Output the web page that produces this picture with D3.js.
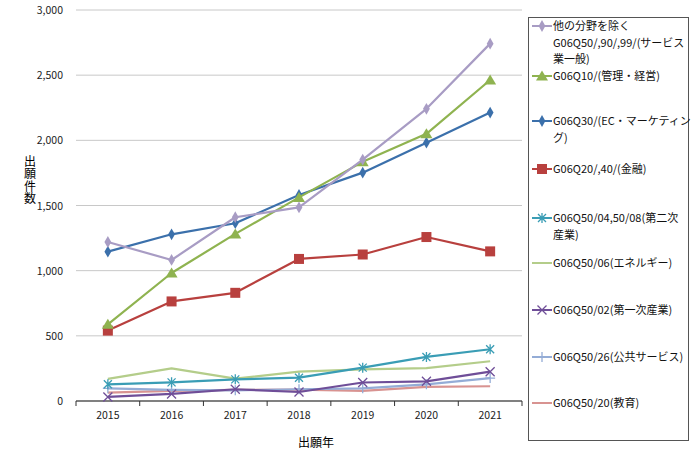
<!DOCTYPE html>
<html>
<head>
<meta charset="utf-8">
<script src="https://cdn.jsdelivr.net/npm/d3@7"></script>
<style>
  body { margin: 0; background: #fff; }
  svg { font-family: "Noto Sans CJK JP", "Noto Sans", sans-serif; }
</style>
</head>
<body>
<div id="chart"></div>
<script>
// Years on the x axis
const years = ['2015', '2016', '2017', '2018', '2019', '2020', '2021'];
const yTicks = [0, 500, 1000, 1500, 2000, 2500, 3000];

// Series values
const otherService = [1220, 1082, 1410, 1485, 1852, 2242, 2742];
const management = [588, 982, 1282, 1562, 1835, 2050, 2463];
const ecMarketing = [1146, 1279, 1364, 1581, 1752, 1982, 2213];
const finance = [540, 764, 830, 1090, 1124, 1258, 1148];
const secondary = [128, 143, 166, 179, 256, 338, 397];
const energy = [170, 250, 172, 225, 243, 252, 305];
const primary = [31, 54, 90, 69, 142, 151, 225];
const publicService = [97, 86, 82, 90, 97, 128, 176];
const education = [64, 77, 86, 87, 78, 108, 113];

const seriesNames = [
  ['他の分野を除く', 'G06Q50/,90/,99/(サービス', '業一般)'],
  ['G06Q10/(管理・経営)'],
  ['G06Q30/(EC・マーケティン', 'グ)'],
  ['G06Q20/,40/(金融)'],
  ['G06Q50/04,50/08(第二次', '産業)'],
  ['G06Q50/06(エネルギー)'],
  ['G06Q50/02(第一次産業)'],
  ['G06Q50/26(公共サービス)'],
  ['G06Q50/20(教育)']
];

const series = [
  { name: seriesNames[0], values: otherService, color: '#a89cc4', marker: 'diamond' },
  { name: seriesNames[1], values: management, color: '#8fb350', marker: 'triangle' },
  { name: seriesNames[2], values: ecMarketing, color: '#3b70ab', marker: 'diamond' },
  { name: seriesNames[3], values: finance, color: '#b8403e', marker: 'square' },
  { name: seriesNames[4], values: secondary, color: '#3a9db5', marker: 'star' },
  { name: seriesNames[5], values: energy, color: '#b4cd8a', marker: 'none' },
  { name: seriesNames[6], values: primary, color: '#6f4e98', marker: 'cross' },
  { name: seriesNames[7], values: publicService, color: '#94acd6', marker: 'plus' },
  { name: seriesNames[8], values: education, color: '#d89391', marker: 'none' }
];

const width = 698, height = 467;
const plot = { left: 76, right: 522, top: 10, bottom: 401 };

const svg = d3.select('#chart').append('svg')
  .attr('width', width)
  .attr('height', height);

const x = d3.scaleBand().domain(years).range([plot.left, plot.right]);
const y = d3.scaleLinear().domain([0, 3000]).range([plot.bottom, plot.top]);
const cx = d => x(d) + x.bandwidth() / 2;

// Gridlines
svg.append('g')
  .selectAll('line')
  .data(yTicks.filter(t => t > 0))
  .enter().append('line')
  .attr('x1', plot.left).attr('x2', plot.right)
  .attr('y1', d => y(d)).attr('y2', d => y(d))
  .attr('stroke', '#c8c8c8').attr('stroke-width', 1);

// Y axis labels
svg.append('g')
  .selectAll('text')
  .data(yTicks)
  .enter().append('text')
  .attr('x', 63)
  .attr('y', d => y(d) + 4)
  .attr('text-anchor', 'end')
  .attr('font-size', 10.5)
  .attr('fill', '#222')
  .text(d => d3.format(',')(d));

// X axis
const xAxis = svg.append('g').attr('transform', `translate(0,${plot.bottom})`)
  .call(d3.axisBottom(x).tickSize(0).tickPadding(11));
xAxis.select('.domain').remove();
xAxis.selectAll('text').attr('font-size', 10.5).attr('fill', '#222')
  .attr('font-family', '"Noto Sans CJK JP", sans-serif');

svg.append('line')
  .attr('x1', plot.left).attr('x2', plot.right)
  .attr('y1', plot.bottom).attr('y2', plot.bottom)
  .attr('stroke', '#808080').attr('stroke-width', 2);

const boundaries = years.map(d => x(d)).concat([plot.right]);
svg.append('g')
  .selectAll('line')
  .data(boundaries)
  .enter().append('line')
  .attr('x1', d => d).attr('x2', d => d)
  .attr('y1', plot.bottom).attr('y2', plot.bottom + 5)
  .attr('stroke', '#333').attr('stroke-width', 1);

// Axis titles
svg.append('text')
  .attr('x', 316).attr('y', 447)
  .attr('text-anchor', 'middle')
  .attr('font-size', 12)
  .text('出願年');

svg.append('text')
  .attr('x', 30).attr('y', 155)
  .attr('font-size', 12)
  .style('writing-mode', 'vertical-rl')
  .style('letter-spacing', '0.5px')
  .text('出願件数');

// Marker drawing
function drawMarker(g, type, color) {
  if (type === 'diamond') {
    g.append('path').attr('d', d3.symbol(d3.symbolDiamond, 40)()).attr('fill', color);
  } else if (type === 'triangle') {
    g.append('path').attr('d', 'M0,-5.5L6,4.5L-6,4.5Z').attr('fill', color);
  } else if (type === 'square') {
    g.append('rect').attr('x', -5).attr('y', -5).attr('width', 10).attr('height', 10).attr('fill', color);
  } else if (type === 'star') {
    g.append('path').attr('d', 'M-4,-4L4,4M-4,4L4,-4M0,-5L0,5')
      .attr('stroke', color).attr('stroke-width', 1.3).attr('fill', 'none');
  } else if (type === 'cross') {
    g.append('path').attr('d', 'M-4.5,-4.5L4.5,4.5M-4.5,4.5L4.5,-4.5')
      .attr('stroke', color).attr('stroke-width', 1.3).attr('fill', 'none');
  } else if (type === 'plus') {
    g.append('path').attr('d', 'M-5,0L5,0M0,-5L0,5')
      .attr('stroke', color).attr('stroke-width', 1.3).attr('fill', 'none');
  }
}

const line = d3.line().x((d, i) => cx(years[i])).y(d => y(d));

// Draw series from back to front
const drawOrder = series.slice().reverse();
drawOrder.forEach(s => {
  svg.append('path')
    .datum(s.values)
    .attr('d', line)
    .attr('fill', 'none')
    .attr('stroke', s.color)
    .attr('stroke-width', 2.2)
    .attr('stroke-linejoin', 'round');
  s.values.forEach((v, i) => {
    const g = svg.append('g').attr('transform', `translate(${cx(years[i])},${y(v)})`);
    drawMarker(g, s.marker, s.color);
  });
});

// Legend
svg.append('rect')
  .attr('x', 528.5).attr('y', 17.5)
  .attr('width', 160).attr('height', 423)
  .attr('fill', '#fff').attr('stroke', '#555').attr('stroke-width', 1);

const legendY = [26, 76, 121, 169, 218, 263, 310, 357, 403];
series.forEach((s, i) => {
  const ly = legendY[i];
  svg.append('line')
    .attr('x1', 532).attr('x2', 552)
    .attr('y1', ly).attr('y2', ly)
    .attr('stroke', s.color).attr('stroke-width', 2);
  const g = svg.append('g').attr('transform', `translate(542,${ly})`);
  drawMarker(g, s.marker, s.color);
  const t = svg.append('text')
    .attr('x', 553).attr('y', ly + 4)
    .attr('font-size', 11)
    .attr('fill', '#111');
  s.name.forEach((txt, j) => {
    t.append('tspan').attr('x', 553).attr('dy', j === 0 ? 0 : 16.5).text(txt);
  });
});
</script>
</body>
</html>
